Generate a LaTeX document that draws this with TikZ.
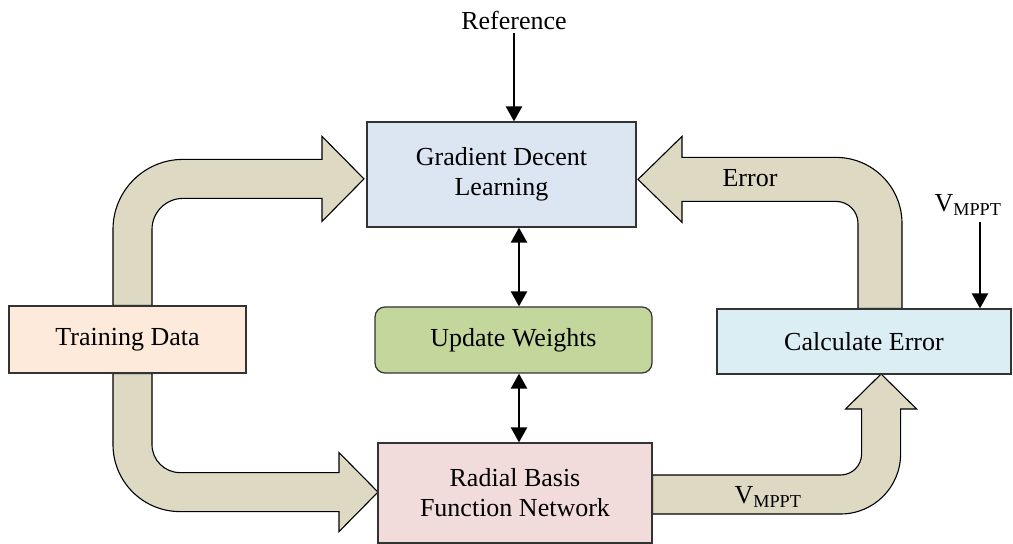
\documentclass[tikz,border=0pt]{standalone}
\usepackage{fontspec}
\setmainfont{Liberation Serif}
\usepackage{tikz}
\usetikzlibrary{arrows.meta,backgrounds}

\definecolor{gdlblue}{HTML}{DCE6F2}
\definecolor{trainpeach}{HTML}{FDEADA}
\definecolor{updgreen}{HTML}{C3D69B}
\definecolor{rbfpink}{HTML}{F2DCDB}
\definecolor{calcaqua}{HTML}{DBEEF4}
\definecolor{bandtan}{HTML}{DDD9C3}

\begin{document}
\begin{tikzpicture}[x=1pt,y=1pt,>={Triangle[length=15pt,width=16pt]},
                    font=\fontsize{26}{30}\selectfont]
  \tikzstyle{box}=[draw=black!80,line width=1.2pt,inner sep=0pt,align=center]
  \tikzstyle{bigarrow}=[draw=black,line width=1.1pt,fill=bandtan,line join=miter]
  \tikzstyle{sig}=[line width=2.4pt,->]
  \tikzstyle{dblsig}=[line width=2.4pt,<->]

  \useasboundingbox (0,0) rectangle (1013,544);

  \node[box,fill=gdlblue,minimum width=269pt,minimum height=105pt]
        (grad)  at (501.5,369.5) {Gradient Decent\\Learning};
  \node[box,fill=trainpeach,minimum width=237pt,minimum height=67pt]
        (train) at (127.5,204.5) {Training Data};
  \node[box,fill=updgreen,rounded corners=10pt,minimum width=277pt,minimum height=66pt]
        (upd)   at (513.5,204)   {Update Weights};
  \node[box,fill=calcaqua,minimum width=294pt,minimum height=65pt]
        (calc)  at (864,202.5)   {Calculate Error};
  \node[box,fill=rbfpink,minimum width=274pt,minimum height=100pt]
        (rbf)   at (515,51)      {Radial Basis\\Function Network};

  \node (ref) at (514,524) {Reference};
  \node (vin) at (968,339) {V\textsubscript{MPPT}};
  \coordinate (vtop) at (980,322);

  % thin signal arrows
  \draw[sig] (ref.south) -- (ref.south |- grad.north);
  \draw[sig] (vtop) -- (vtop |- calc.north);
  \draw[dblsig] ([xshift=17.5pt]grad.south) -- ([xshift=17.5pt]grad.south |- upd.north);
  \draw[dblsig] ([xshift=5.5pt]upd.south) -- ([xshift=5.5pt]upd.south |- rbf.north);

  % block arrows
  \begin{pgfonlayer}{background}
    % training data -> gradient learning
    \draw[bigarrow] ([xshift=-14.5pt]train.north) -- ++(0,76)
      arc[start angle=180,end angle=90,radius=70pt] -- ++(139,0) -- ++(0,23)
      -- ++(42,-42.5) -- ++(-42,-42.5) -- ++(0,23) -- ++(-139,0)
      arc[start angle=90,end angle=180,radius=31pt] -- ++(0,-76) -- cycle;
    % training data -> rbf network
    \draw[bigarrow] ([xshift=-14.5pt]train.south) -- ++(0,-71)
      arc[start angle=180,end angle=270,radius=67pt] -- ++(159,0) -- ++(0,-20)
      -- ++(39,39.5) -- ++(-39,39.5) -- ++(0,-20) -- ++(-159,0)
      arc[start angle=270,end angle=180,radius=28pt] -- ++(0,71) -- cycle;
    % calculate error -> gradient learning
    \draw[bigarrow] ([xshift=38pt]calc.north) -- ++(0,85)
      arc[start angle=0,end angle=90,radius=66pt] -- ++(-154,0) -- ++(0,21)
      -- ++(-44,-43) -- ++(44,-43) -- ++(0,21) -- ++(154,0)
      arc[start angle=90,end angle=0,radius=22pt] -- ++(0,-85) -- cycle;
    % rbf network -> calculate error
    \draw[bigarrow] ([yshift=18pt]rbf.east) -- ++(188,0)
      arc[start angle=270,end angle=360,radius=21pt] -- ++(0,45) -- ++(-16,0)
      -- ++(35.5,35) -- ++(35.5,-35) -- ++(-16,0) -- ++(0,-45)
      arc[start angle=0,end angle=-90,radius=60pt] -- ++(-188,0) -- cycle;
  \end{pgfonlayer}

  \node (errlbl) at (750,366) {Error};
  \node (vout)   at (768,47)  {V\textsubscript{MPPT}};
\end{tikzpicture}
\end{document}
